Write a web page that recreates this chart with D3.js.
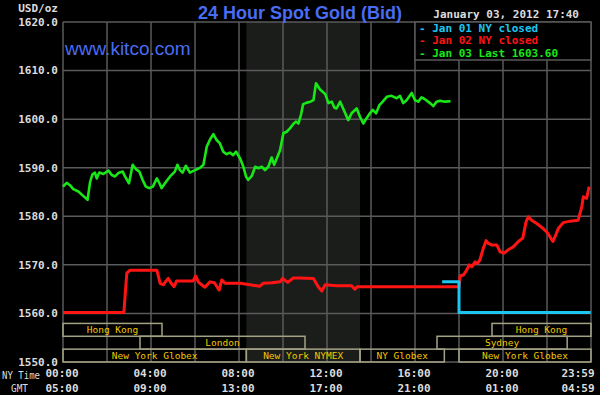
<!DOCTYPE html>
<html>
<head>
<meta charset="utf-8">
<script src="https://cdn.jsdelivr.net/npm/d3@7"></script>
<style>
body { margin: 0; background: #000; }
svg { display: block; }
</style>
</head>
<body>
<script>
// minutes after midnight (NY time) and bid price
var jan03Times = [0,10,19,28,42,55,67,74,80,87,92,99,110,124,133,142,151,163,169,180,
  190,199,208,217,226,235,245,256,263,269,281,292,305,312,319,326,335,346,360,374,
  383,392,401,410,419,428,437,446,455,464,472,483,492,499,505,515,524,533,542,551,
  560,569,576,584,592,601,610,619,628,635,642,649,655,665,675,683,690,701,715,724,
  733,740,746,756,764,778,787,801,810,819,828,837,845,854,863,872,883,896,910,919,
  928,937,951,960,969,978,987,1001,1010,1019,1028,1042,1057];
var jan03Values = [1586.1,1586.9,1586.4,1585.6,1585.1,1584.2,1583.4,1587.1,1588.6,1589.0,
  1587.8,1589.0,1588.7,1589.4,1588.5,1588.2,1588.9,1589.2,1588.2,1586.8,
  1590.6,1589.7,1589.2,1587.5,1586.1,1585.8,1586.1,1587.8,1586.8,1585.8,
  1587.1,1588.2,1589.2,1590.6,1589.5,1589.0,1590.4,1589.0,1589.5,1590.0,
  1590.6,1594.3,1595.8,1596.9,1595.7,1595.0,1593.3,1592.8,1593.1,1592.6,
  1593.3,1591.9,1590.2,1588.2,1587.5,1588.3,1590.2,1589.9,1590.2,1589.5,
  1590.2,1592.1,1590.6,1592.1,1593.6,1597.1,1597.4,1598.1,1599.0,1599.5,
  1599.1,1600.9,1603.1,1603.4,1603.6,1603.9,1607.4,1606.1,1605.2,1603.3,
  1603.6,1602.4,1602.2,1603.6,1602.2,1599.8,1601.2,1602.2,1600.5,1599.1,
  1600.2,1601.2,1601.9,1601.2,1602.9,1603.6,1604.6,1604.8,1604.3,1604.8,
  1603.3,1603.9,1605.4,1603.9,1603.6,1604.5,1604.1,1603.3,1602.7,1603.6,
  1603.8,1603.6,1603.7];

var jan02Times = [0,166,174,183,256,265,274,281,287,295,303,310,355,362,369,378,387,401,413,419,
  426,433,442,483,510,537,546,570,592,599,613,628,646,683,696,706,715,746,787,796,
  803,1080,1083,1092,1101,1108,1115,1124,1130,1137,1145,1154,1160,1169,1183,1192,1203,1214,1228,1242,
  1254,1263,1269,1278,1292,1306,1319,1328,1336,1342,1351,1364,1383,1405,1415,1419,1428,1435];
var jan02Values = [1560.2,1560.2,1568.3,1568.9,1568.9,1566.2,1565.9,1566.7,1567.2,1566.2,
  1565.5,1566.7,1566.7,1567.7,1566.5,1565.9,1565.4,1566.5,1566.3,1565.6,
  1564.8,1566.9,1566.2,1566.2,1565.9,1565.6,1566.2,1566.3,1566.5,1567.2,
  1566.4,1567.3,1567.3,1567.2,1565.5,1564.6,1565.9,1565.7,1565.7,1565.0,
  1565.5,1565.5,1567.7,1567.9,1568.9,1570.0,1569.6,1570.6,1570.3,1571.0,
  1573.1,1575.0,1574.4,1574.1,1574.1,1572.7,1572.4,1573.1,1573.7,1574.8,
  1575.5,1578.9,1579.9,1579.2,1578.5,1577.7,1576.8,1575.8,1574.8,1575.8,
  1577.5,1578.7,1579.0,1579.2,1582.0,1584.0,1583.7,1586.1];

var jan01Times = [1034,1080,1080,1439];
var jan01Values = [1566.5,1566.5,1560.2,1560.2];

var yTicks = [1550,1560,1570,1580,1590,1600,1610,1620];
var xTickTimes = [0,240,480,720,960,1200,1439];
var nyLabels = ["00:00","04:00","08:00","12:00","16:00","20:00","23:59"];
var gmtLabels = ["05:00","09:00","13:00","17:00","21:00","01:00","04:59"];

var sessionNames = ["Hong Kong","London","New York Globex","New York NYMEX","NY Globex","Sydney","Hong Kong","New York Globex"];
var sessionStart = [0,210,0,500,810,1020,1170,1080];
var sessionEnd = [270,660,500,810,1040,1375,1440,1440];
var sessionRow = [0,1,2,2,2,1,0,2];

var pitStart = 500, pitEnd = 810;

var legendLabels = ["Jan 01 NY closed","Jan 02 NY closed","Jan 03 Last 1603.60"];
var legendColors = ["#1cc6f0","#ff1414","#18e818"];

var W = 600, H = 395;
var plotL = 63, plotR = 591, plotT = 22, plotB = 362;

var svg = d3.select("body").append("svg").attr("width", W).attr("height", H);
svg.append("rect").attr("width", W).attr("height", H).attr("fill", "#000");

var x = d3.scaleLinear().domain([0, 1440]).range([plotL, plotR]);
var y = d3.scaleLinear().domain([1550, 1620]).range([plotB, plotT]);

var mono = "'DejaVu Sans Mono', monospace";
var labelColor = "#dcdcdc";

// comex pit hours shading
svg.append("rect")
  .attr("x", x(pitStart)).attr("y", plotT)
  .attr("width", x(pitEnd) - x(pitStart)).attr("height", plotB - plotT)
  .attr("fill", "#1b1d1b");

// grid
svg.append("g").selectAll("line")
  .data(yTicks)
  .enter().append("line")
  .attr("x1", plotL).attr("x2", plotR)
  .attr("y1", function (d) { return y(d); })
  .attr("y2", function (d) { return y(d); })
  .attr("stroke", "#5a5a5a").attr("stroke-width", 1.5);

svg.append("g").selectAll("line")
  .data(d3.range(0, 1441, 120))
  .enter().append("line")
  .attr("x1", function (d) { return x(d); })
  .attr("x2", function (d) { return x(d); })
  .attr("y1", plotT).attr("y2", plotB)
  .attr("stroke", "#5a5a5a").attr("stroke-width", 1.5);

// trading sessions
var rowH = (y(1550) - y(1560) - 10) / 3;
var rowTop = function (r) { return y(1560) + 10 + r * rowH; };
var sessions = d3.range(sessionNames.length);

svg.append("g").selectAll("rect")
  .data(sessions)
  .enter().append("rect")
  .attr("x", function (i) { return x(sessionStart[i]); })
  .attr("y", function (i) { return rowTop(sessionRow[i]); })
  .attr("width", function (i) { return x(sessionEnd[i]) - x(sessionStart[i]); })
  .attr("height", rowH)
  .attr("fill", "none")
  .attr("stroke", "#a4a284").attr("stroke-width", 1.5);

svg.append("g").selectAll("text")
  .data(sessions)
  .enter().append("text")
  .attr("x", function (i) { return (x(sessionStart[i]) + x(sessionEnd[i])) / 2; })
  .attr("y", function (i) { return rowTop(sessionRow[i]) + rowH / 2; })
  .attr("dy", "0.35em")
  .attr("text-anchor", "middle")
  .attr("font-family", mono).attr("font-size", 9.5)
  .attr("fill", "#f2c800")
  .text(function (i) { return sessionNames[i]; });

// price lines
var line = d3.line()
  .x(function (d) { return x(d[0]); })
  .y(function (d) { return y(d[1]); });

function drawSeries(times, values, color, w) {
  svg.append("path")
    .datum(d3.zip(times, values))
    .attr("d", line)
    .attr("fill", "none")
    .attr("stroke", color)
    .attr("stroke-width", w)
    .attr("stroke-linejoin", "round");
}
drawSeries(jan02Times, jan02Values, legendColors[1], 3);
drawSeries(jan01Times, jan01Values, legendColors[0], 3);
drawSeries(jan03Times, jan03Values, legendColors[2], 2.6);

// y labels
svg.append("g").selectAll("text")
  .data(yTicks)
  .enter().append("text")
  .attr("x", 58)
  .attr("y", function (d) { return y(d); })
  .attr("dy", "0.35em")
  .attr("text-anchor", "end")
  .attr("font-family", mono).attr("font-size", 11).attr("font-weight", "bold")
  .attr("fill", labelColor)
  .text(function (d) { return d3.format(".1f")(d); });

svg.append("text")
  .attr("x", 58).attr("y", 12)
  .attr("text-anchor", "end")
  .attr("font-family", mono).attr("font-size", 11).attr("font-weight", "bold")
  .attr("fill", labelColor)
  .text("USD/oz");

// x labels, NY time and GMT
function timeRow(labels, yy) {
  svg.append("g").selectAll("text")
    .data(xTickTimes)
    .enter().append("text")
    .attr("x", function (d, i) { return i === labels.length - 1 ? x(d) + 4 : x(d) - 1; })
    .attr("y", yy)
    .attr("text-anchor", function (d, i) { return i === labels.length - 1 ? "end" : "middle"; })
    .attr("font-family", mono).attr("font-size", 11).attr("font-weight", "bold")
    .attr("fill", labelColor)
    .text(function (d, i) { return labels[i]; });
}
timeRow(nyLabels, 377);
timeRow(gmtLabels, 392);

svg.append("text").attr("x", 2).attr("y", 379)
  .attr("textLength", 38).attr("lengthAdjust", "spacingAndGlyphs")
  .attr("font-family", mono).attr("font-size", 10.5).attr("fill", labelColor)
  .text("NY Time");
svg.append("text").attr("x", 11).attr("y", 392)
  .attr("textLength", 17).attr("lengthAdjust", "spacingAndGlyphs")
  .attr("font-family", mono).attr("font-size", 10.5).attr("fill", labelColor)
  .text("GMT");

// titles
svg.append("text")
  .attr("x", 300).attr("y", 19)
  .attr("text-anchor", "middle")
  .attr("font-family", "'Liberation Sans', Arial, sans-serif")
  .attr("font-weight", "bold").attr("font-size", 18)
  .attr("fill", "#4a6cf2")
  .text("24 Hour Spot Gold (Bid)");

svg.append("text")
  .attr("x", 65).attr("y", 55)
  .attr("font-family", "'Liberation Sans', Arial, sans-serif")
  .attr("font-size", 19)
  .attr("fill", "#4a6cf2")
  .text("www.kitco.com");

svg.append("text")
  .attr("x", 579).attr("y", 18)
  .attr("text-anchor", "end")
  .attr("font-family", mono).attr("font-size", 11).attr("font-weight", "bold")
  .attr("fill", labelColor)
  .text("January 03, 2012 17:40");

// legend
var lg = svg.append("g");
lg.append("rect")
  .attr("x", 415).attr("y", plotT)
  .attr("width", plotR - 415).attr("height", 38)
  .attr("fill", "#000")
  .attr("stroke", "#5a5a5a").attr("stroke-width", 1.5);

lg.selectAll("text")
  .data(legendLabels)
  .enter().append("text")
  .attr("x", 419)
  .attr("y", function (d, i) { return 28 + i * 12.6; })
  .attr("dy", "0.35em")
  .attr("font-family", mono).attr("font-size", 11).attr("font-weight", "bold")
  .attr("fill", function (d, i) { return legendColors[i]; })
  .text(function (d) { return "- " + d; });
</script>
</body>
</html>
